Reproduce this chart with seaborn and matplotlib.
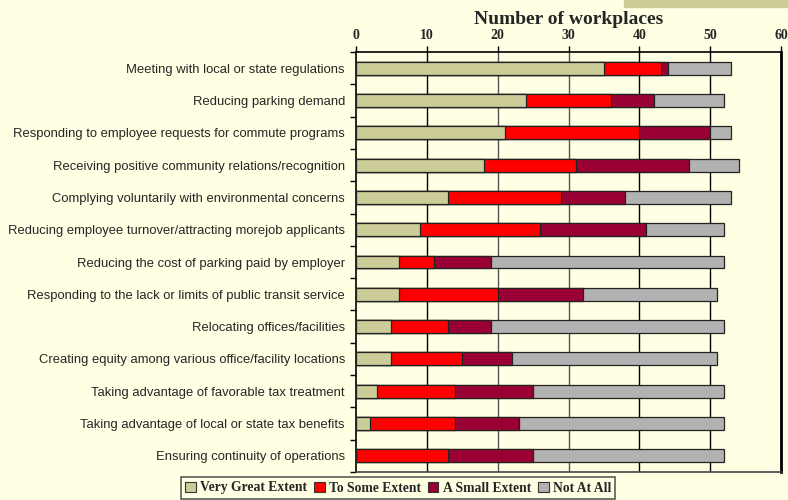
import matplotlib
matplotlib.use("Agg")
import matplotlib.pyplot as plt
import seaborn as sns
import pandas as pd
import numpy as np
from matplotlib.patches import Rectangle

categories = [
    "Meeting with local or state regulations",
    "Reducing parking demand",
    "Responding to employee requests for commute programs",
    "Receiving positive community relations/recognition",
    "Complying voluntarily with environmental concerns",
    "Reducing employee turnover/attracting morejob applicants",
    "Reducing the cost of parking paid by employer",
    "Responding to the lack or limits of public transit service",
    "Relocating offices/facilities",
    "Creating equity among various office/facility locations",
    "Taking advantage of favorable tax treatment",
    "Taking advantage of local or state tax benefits",
    "Ensuring continuity of operations",
]
very_great = [35, 24, 21, 18, 13, 9, 6, 6, 5, 5, 3, 2, 0]
some = [8, 12, 19, 13, 16, 17, 5, 14, 8, 10, 11, 12, 13]
small = [1, 6, 10, 16, 9, 15, 8, 12, 6, 7, 11, 9, 12]
not_at_all = [9, 10, 3, 7, 15, 11, 33, 19, 33, 29, 27, 29, 27]
series_names = ["Very Great Extent", "To Some Extent", "A Small Extent", "Not At All"]
colors = ["#CCCC99", "#FF0000", "#990033", "#B2B2B2"]
x_ticks = [0, 10, 20, 30, 40, 50, 60]

bg = "#FFFFE3"
sns.set_theme(style="white")
plt.rcParams["font.family"] = ["Liberation Sans", "DejaVu Sans"]

fig = plt.figure(figsize=(7.88, 5.0), dpi=100, facecolor=bg)
ax = fig.add_axes([356 / 788, 1 - 472 / 500, (781 - 356) / 788, (472 - 52) / 500])
ax.set_facecolor(bg)

df = pd.DataFrame({
    "cat": categories,
    series_names[0]: very_great,
    series_names[1]: some,
    series_names[2]: small,
    series_names[3]: not_at_all,
})
cum = df[series_names].cumsum(axis=1).assign(cat=categories)

# gridlines behind bars
for t in x_ticks[1:-1]:
    ax.axvline(t, color="#555555" if t in (20, 30) else "#000000", lw=1.0, zorder=0)

for i in reversed(range(4)):
    name = series_names[i]
    sns.barplot(data=cum, x=name, y="cat", orient="h",
                color=colors[i], saturation=1, width=0.4, edgecolor="#222222",
                linewidth=0.9, ax=ax, zorder=2 + (3 - i), order=categories)

ax.set_xlim(0, 60)
ax.set_ylim(len(categories) - 0.5, -0.5)
ax.xaxis.tick_top()
ax.set_xticks(x_ticks)
ax.set_xticklabels([str(t) for t in x_ticks], fontfamily="Liberation Serif",
                   fontweight="bold", fontsize=10)
ax.tick_params(axis="x", direction="out", length=4.5, width=1, color="black", pad=3,
               top=True, bottom=False)
ax.set_xlabel("")
ax.set_ylabel("")
ax.set_yticks(range(len(categories)))
ax.set_yticklabels(categories, fontsize=9.4)
ax.tick_params(axis="y", length=0, pad=8, left=False)
ax.set_yticks(np.arange(-0.5, len(categories), 1), minor=True)
ax.tick_params(axis="y", which="minor", length=4, width=1, color="black", left=True)

for s in ["top", "left"]:
    ax.spines[s].set_color("black")
    ax.spines[s].set_linewidth(1.2)
ax.spines["right"].set_color("black")
ax.spines["right"].set_linewidth(2.0)
ax.spines["bottom"].set_color("#444444")
ax.spines["bottom"].set_linewidth(1.2)

fig.text(569 / 788, 1 - 20 / 500, "Number of workplaces",
         ha="center", va="center", fontfamily="Liberation Serif",
         fontweight="bold", fontsize=14)

# decoration in top right corner
fig.patches.append(Rectangle((624 / 788, 1 - 7 / 500), 1, 7 / 500,
                             transform=fig.transFigure, color="#CCCC99", zorder=0))

handles = [Rectangle((0, 0), 1, 1, facecolor=c, edgecolor="#333333", lw=0.8) for c in colors]
leg = fig.legend(handles, series_names, loc="center", ncol=4,
                 bbox_to_anchor=(398 / 788, 1 - 488 / 500),
                 prop={"family": "Liberation Serif", "weight": "bold", "size": 9.8},
                 frameon=True, fancybox=False, edgecolor="#333333", facecolor=bg,
                 handlelength=0.8, handleheight=0.8, handletextpad=0.3,
                 columnspacing=0.5, borderpad=0.3, borderaxespad=0)
leg.get_frame().set_linewidth(1.2)

fig.savefig("out.png", dpi=100, facecolor=bg)
